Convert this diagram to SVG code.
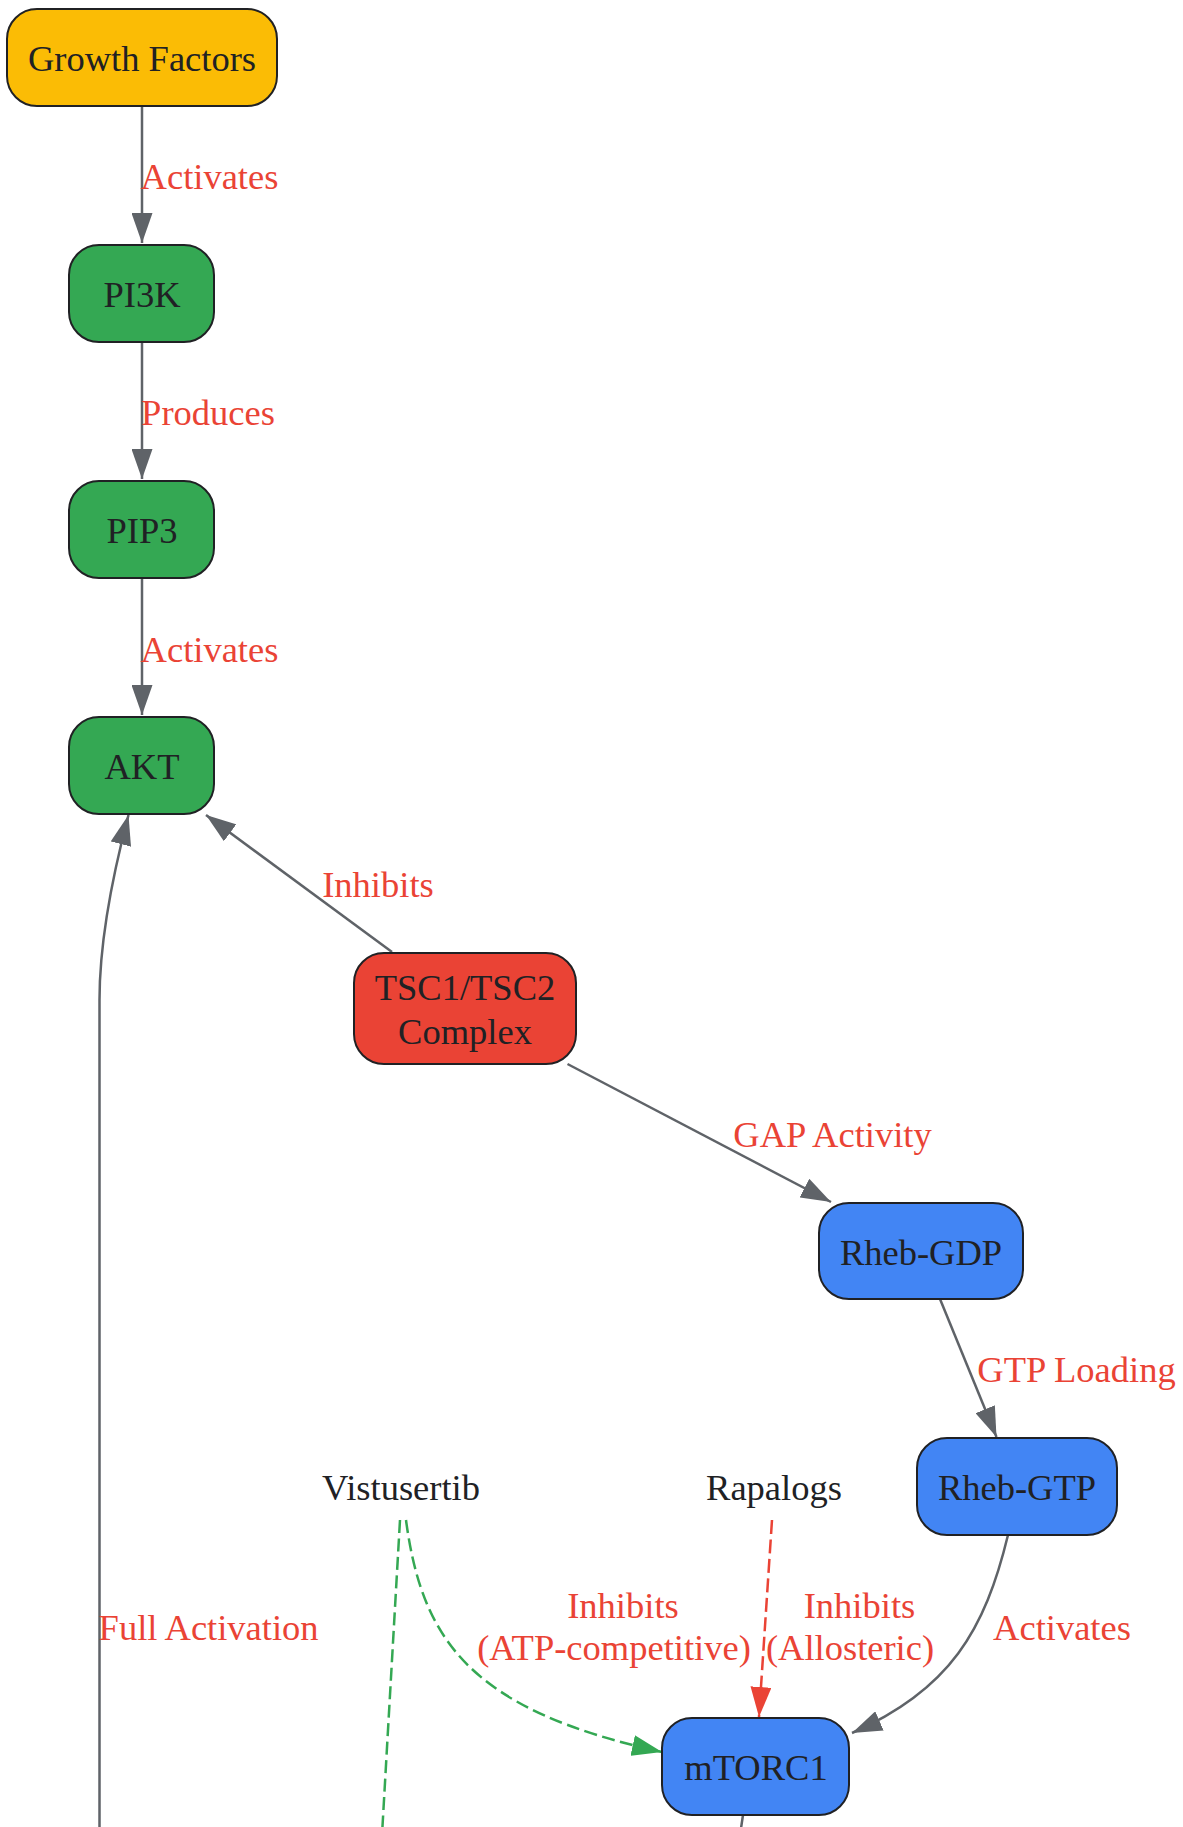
<svg xmlns="http://www.w3.org/2000/svg" width="1183" height="1827" viewBox="0 0 1183 1827">
<style>
text{font-family:"Liberation Serif","Times New Roman",serif;font-size:36.5px;text-anchor:middle}
.nt{fill:#202124}
.lbl{fill:#EA4335}
.node{stroke:#202124;stroke-width:2}
.yellow{fill:#FBBC05}
.green{fill:#34A853}
.red{fill:#EA4335}
.blue{fill:#4285F4}
.e{fill:none;stroke:#5F6368;stroke-width:2.5}
.eg{fill:none;stroke:#34A853;stroke-width:2.5;stroke-dasharray:13,5.5}
.er{fill:none;stroke:#EA4335;stroke-width:2.5;stroke-dasharray:14,5.5}
</style>
<defs>
<marker id="ag" viewBox="0 0 30 21" refX="30" refY="10.5" markerWidth="30" markerHeight="21" markerUnits="userSpaceOnUse" orient="auto"><path d="M0,0 L30,10.5 L0,21 z" fill="#5F6368"/></marker>
<marker id="agr" viewBox="0 0 30 21" refX="30" refY="10.5" markerWidth="30" markerHeight="21" markerUnits="userSpaceOnUse" orient="auto"><path d="M0,0 L30,10.5 L0,21 z" fill="#34A853"/></marker>
<marker id="ar" viewBox="0 0 30 21" refX="30" refY="10.5" markerWidth="30" markerHeight="21" markerUnits="userSpaceOnUse" orient="auto"><path d="M0,0 L30,10.5 L0,21 z" fill="#EA4335"/></marker>
</defs>
<rect width="1183" height="1827" fill="#ffffff"/>
<g id="connectors">
<path class="e" d="M142,106 L142,243" marker-end="url(#ag)"/>
<path class="e" d="M142,342 L142,479" marker-end="url(#ag)"/>
<path class="e" d="M142,578 L142,715" marker-end="url(#ag)"/>
<path class="e" d="M392,952 L206,815" marker-end="url(#ag)"/>
<path class="e" d="M99.5,1835 L99.5,1000 C99.5,940 114,870 128.5,815" marker-end="url(#ag)"/>
<path class="e" d="M567.5,1064 L831,1202" marker-end="url(#ag)"/>
<path class="e" d="M940,1299 L996.5,1437" marker-end="url(#ag)"/>
<path class="e" d="M1008,1535 C985,1630 950,1690 852,1733" marker-end="url(#ag)"/>
<path class="er" d="M772,1520 L759,1717" marker-end="url(#ar)"/>
<path class="eg" d="M406,1520 C422,1640 470,1710 662,1752" marker-end="url(#agr)"/>
<path class="eg" d="M400,1520 L382,1835"/>
<path class="e" d="M743,1815 L740,1835"/>
<text class="lbl" x="209.5" y="189">Activates</text>
<text class="lbl" x="208" y="425">Produces</text>
<text class="lbl" x="209.5" y="662">Activates</text>
<text class="lbl" x="378" y="897">Inhibits</text>
<text class="lbl" x="832.5" y="1147">GAP Activity</text>
<text class="lbl" x="1076.5" y="1382">GTP Loading</text>
<text class="lbl" x="208.6" y="1640">Full Activation</text>
<text class="lbl" x="623" y="1618">Inhibits</text>
<text class="lbl" x="614" y="1660">(ATP-competitive)</text>
<text class="lbl" x="859.5" y="1618">Inhibits</text>
<text class="lbl" x="850" y="1660">(Allosteric)</text>
<text class="lbl" x="1062" y="1640">Activates</text>
</g>
<g id="growth-factors"><rect class="node yellow" x="7" y="9" width="270" height="97" rx="30"/><text class="nt" x="142" y="71">Growth Factors</text></g>
<g id="pi3k"><rect class="node green" x="69" y="245" width="145" height="97" rx="30"/><text class="nt" x="142" y="307">PI3K</text></g>
<g id="pip3"><rect class="node green" x="69" y="481" width="145" height="97" rx="30"/><text class="nt" x="142" y="543">PIP3</text></g>
<g id="akt"><rect class="node green" x="69" y="717" width="145" height="97" rx="30"/><text class="nt" x="142" y="779">AKT</text></g>
<g id="tsc"><rect class="node red" x="354" y="953" width="222" height="111" rx="30"/><text class="nt" x="465" y="1000">TSC1/TSC2</text><text class="nt" x="465" y="1044">Complex</text></g>
<g id="rheb-gdp"><rect class="node blue" x="819" y="1203" width="204" height="96" rx="30"/><text class="nt" x="921" y="1265">Rheb-GDP</text></g>
<g id="rheb-gtp"><rect class="node blue" x="917" y="1438" width="200" height="97" rx="30"/><text class="nt" x="1017" y="1500">Rheb-GTP</text></g>
<g id="mtorc1"><rect class="node blue" x="662" y="1718" width="187" height="97" rx="30"/><text class="nt" x="756" y="1780">mTORC1</text></g>
<g id="vistusertib"><text class="nt" x="401" y="1500">Vistusertib</text></g>
<g id="rapalogs"><text class="nt" x="774" y="1500">Rapalogs</text></g>
</svg>
